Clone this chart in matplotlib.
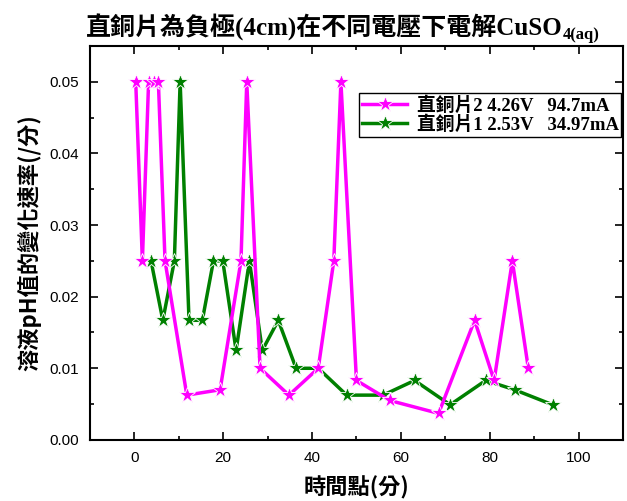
import matplotlib
matplotlib.use('Agg')
import matplotlib.pyplot as plt
from matplotlib.ticker import MultipleLocator, FormatStrFormatter

plt.rcParams['font.family'] = ['Liberation Sans', 'DejaVu Sans']
cjk = ['Noto Sans CJK TC', 'DejaVu Sans']
serif_cjk = ['Liberation Serif', 'Noto Sans CJK TC']

# 直銅片2 4.26V 94.7mA
t2 = [0.3, 1.8, 3.2, 4.5, 5.4, 6.9, 11.8, 19.3, 24.0, 25.3, 28.3, 34.8, 41.4,
      44.9, 46.5, 50.0, 57.5, 68.5, 76.6, 81.0, 85.1, 88.7]
r2 = [0.05, 0.025, 0.05, 0.05, 0.05, 0.025, 0.00625, 0.007, 0.025, 0.05, 0.01,
      0.00625, 0.01, 0.025, 0.05, 0.0083, 0.0055, 0.0037, 0.0167, 0.0083,
      0.025, 0.01]

# 直銅片1 2.53V 34.97mA
t1 = [3.75, 6.4, 9.0, 10.3, 12.3, 15.3, 17.8, 19.9, 22.9, 25.9, 28.8, 32.4,
      36.4, 41.4, 47.8, 56.0, 63.1, 71.1, 79.1, 85.6, 94.2]
r1 = [0.025, 0.0167, 0.025, 0.05, 0.0167, 0.0167, 0.025, 0.025, 0.0125, 0.025,
      0.0125, 0.0167, 0.01, 0.01, 0.00625, 0.00625, 0.0083, 0.0049, 0.0083,
      0.007, 0.0049]

label2 = '直銅片2 4.26V   94.7mA'
label1 = '直銅片1 2.53V   34.97mA'

fig = plt.figure(figsize=(6.27, 5.01), dpi=100)
ax = fig.add_axes([0.1435, 0.122, 0.85, 0.786])

ax.plot(t2, r2, color='#ff00ff', lw=2.5, marker='*', ms=12, mec='white',
        mew=0.6, label=label2, zorder=3)
ax.plot(t1, r1, color='#008000', lw=2.5, marker='*', ms=12, mec='white',
        mew=0.6, label=label1, zorder=2)

ax.set_xlim(-10, 110)
ax.set_ylim(0, 0.055)
ax.xaxis.set_major_locator(MultipleLocator(20))
ax.xaxis.set_minor_locator(MultipleLocator(10))
ax.yaxis.set_major_locator(MultipleLocator(0.01))
ax.yaxis.set_minor_locator(MultipleLocator(0.005))
ax.yaxis.set_major_formatter(FormatStrFormatter('%.2f'))
ax.tick_params(which='both', direction='in', top=True, right=True,
               labeltop=False, labelright=False, width=1.2)
ax.tick_params(which='major', length=6, labelsize=11, pad=8)
ax.tick_params(which='minor', length=3)
for s in ax.spines.values():
    s.set_linewidth(1.5)

leg = ax.legend(loc='upper right', bbox_to_anchor=(0.997, 0.88),
                prop={'family': serif_cjk, 'size': 13.5, 'weight': 'bold'},
                fancybox=False, edgecolor='black', framealpha=1,
                borderpad=0.15, handlelength=2.4, handletextpad=0.5,
                labelspacing=0.05, borderaxespad=0)
leg.get_frame().set_linewidth(1.0)

# title with subscript drawn as a second text
title = fig.text(0.517, 0.946, '直銅片為負極(4cm)在不同電壓下電解CuSO',
                 ha='center', va='center', fontsize=18, fontweight='bold',
                 family=serif_cjk)
ax.annotate('4(aq)', xy=(1.0, 0.2), xycoords=title, ha='left', va='center',
            fontsize=12, fontweight='bold', family=serif_cjk,
            annotation_clip=False)

ax.set_xlabel('時間點(分)', fontsize=16, fontweight='bold', family=cjk,
              labelpad=8)
ax.set_ylabel('溶液pH值的變化速率(/分)', fontsize=16, fontweight='bold',
              family=cjk, labelpad=6)

fig.savefig('out.png', dpi=100)
